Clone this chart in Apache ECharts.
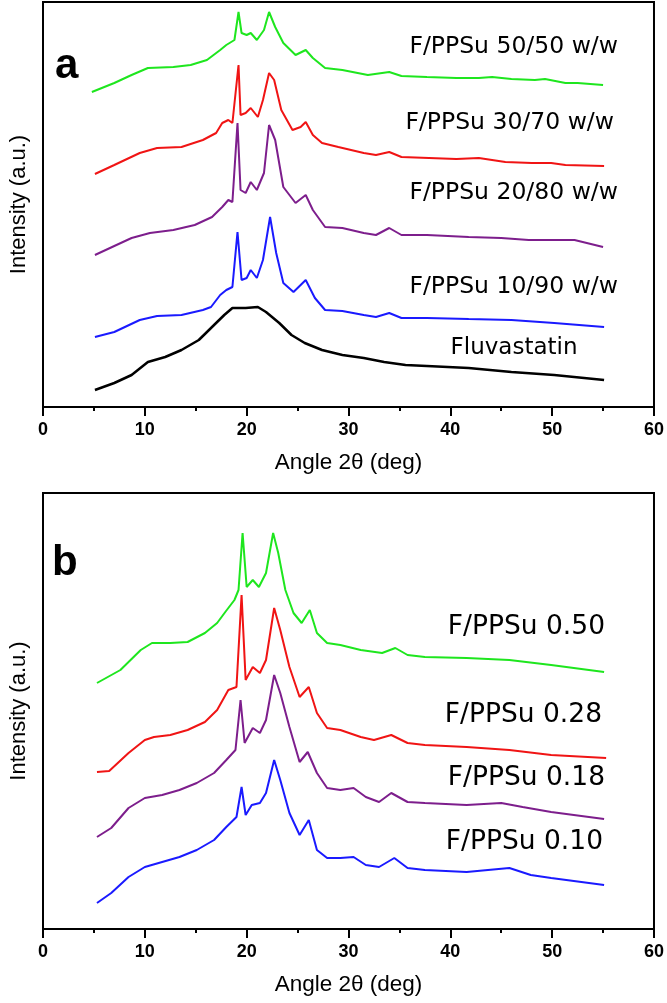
<!DOCTYPE html>
<html><head><meta charset="utf-8">
<script src="https://cdn.jsdelivr.net/npm/echarts@6/dist/echarts.min.js"></script>
<style>html,body{margin:0;padding:0;background:#fff}#c{width:667px;height:1003px}</style>
</head><body><div id="c"></div>
<script>
// ---------- Panel a (intensity in arbitrary units) ----------
const aGreenX  = [4.8,7.0,8.7,10.3,12.8,14.5,16.1,17.4,18.0,18.8,19.2,19.5,20.0,20.4,21.0,21.7,22.2,22.8,23.6,24.8,25.8,26.5,27.7,29.4,31.9,34.0,35.2,37.7,40.6,42.8,44.1,46.0,48.3,49.3,51.3,52.5,55.0];
const aGreenY  = [315,324,332,339,340,342,347,357,362,367,395,374,372,374,367,377,395,380,364,352,357,349,339,337,332,335,331,330,329,329,330,328,327,328,324,324,322];
const aRedX    = [5.1,7.0,9.5,11.2,13.6,15.7,17.0,17.6,18.2,18.6,19.2,19.4,19.9,20.4,21.1,21.6,22.2,22.7,23.4,24.5,25.3,25.8,26.5,27.4,29.0,31.5,32.7,34.0,35.2,37.9,40.6,42.8,45.4,48.0,49.9,51.3,55.1];
const aRedY    = [233,242,254,259,260,267,274,284,287,284,342,292,294,299,290,307,334,327,297,277,280,285,272,264,260,254,252,255,250,249,248,249,245,244,244,242,241];
const aPurpleX = [5.1,7.0,8.7,10.5,12.8,14.9,16.6,17.6,18.2,18.6,19.1,19.4,19.9,20.4,21.0,21.7,22.2,22.8,23.6,24.8,25.8,26.5,27.7,29.4,31.5,32.7,34.0,35.2,37.7,41.8,45.0,47.7,52.2,55.0];
const aPurpleY = [152,161,169,174,177,182,190,200,207,205,284,217,214,225,217,234,282,267,220,204,212,197,180,179,174,172,179,172,172,170,169,167,167,160];
const aBlueX   = [5.1,7.0,9.5,11.2,13.6,15.7,16.5,17.4,18.0,18.6,19.1,19.5,20.0,20.4,21.0,21.6,22.3,22.9,23.6,24.6,25.8,26.7,27.7,29.4,31.5,32.7,34.0,35.2,37.7,41.8,46.0,50.2,55.1];
const aBlueY   = [70,75,87,91,92,97,100,112,117,120,175,127,129,137,129,147,190,154,124,115,127,109,97,96,92,90,94,89,89,88,87,84,80];
const aBlackX  = [5.1,7.0,8.7,10.3,12.0,13.6,15.3,16.5,17.8,18.6,19.9,21.1,21.9,23.2,24.4,25.7,27.4,29.4,31.5,33.5,35.6,37.7,41.8,46.0,50.2,55.1];
const aBlackY  = [17,24,32,45,50,57,67,79,92,99,99,100,95,84,72,64,57,52,49,45,42,41,39,35,32,27];
const aLabels  = ["F/PPSu 50/50 w/w","F/PPSu 30/70 w/w","F/PPSu 20/80 w/w","F/PPSu 10/90 w/w","Fluvastatin"];

// ---------- Panel b ----------
const bGreenX  = [5.3,7.6,9.6,10.7,12.5,14.2,15.9,17.1,17.9,18.8,19.2,19.6,20.0,20.6,21.2,21.9,22.6,23.1,23.8,24.6,25.4,26.2,26.9,27.9,29.2,31.2,33.3,34.6,35.8,37.5,41.6,45.8,49.9,55.1];
const bGreenY  = [246,259,279,286,286,287,296,306,317,329,339,396,342,349,342,356,396,376,339,316,306,319,296,286,284,279,276,281,274,272,271,269,264,257];
const bRedX    = [5.3,6.5,8.4,10.0,10.9,12.5,14.2,15.9,17.1,18.2,19.0,19.5,19.9,20.6,21.3,21.9,22.7,23.3,24.2,25.2,26.1,26.9,27.9,29.2,31.2,32.5,34.2,35.8,37.5,41.6,45.8,49.9,55.3];
const bRedY    = [157,158,176,189,192,194,199,207,219,239,242,334,249,262,256,269,321,299,262,232,242,216,201,199,192,189,194,186,184,182,179,174,171];
const bPurpleX = [5.3,6.7,8.4,10.0,11.7,13.4,15.1,16.8,18.0,18.9,19.4,19.8,20.6,21.3,21.9,22.7,23.3,24.2,25.2,26.0,26.9,27.9,29.2,30.5,31.7,33.0,34.2,35.8,37.5,41.6,45.0,47.1,49.9,55.1];
const bPurpleY = [92,101,121,131,134,139,146,156,169,179,229,186,201,196,209,254,236,202,167,177,156,141,139,141,132,127,136,127,126,124,126,122,117,110];
const bBlueX   = [5.3,6.7,8.4,10.0,11.7,13.4,15.1,16.8,18.0,19.0,19.5,19.9,20.5,21.3,21.9,22.7,23.3,24.2,25.2,26.1,26.9,27.9,29.2,30.5,31.7,33.0,34.5,35.8,37.5,41.6,45.8,47.9,49.9,55.1];
const bBlueY   = [26,36,52,62,67,72,79,89,102,112,142,114,124,126,136,169,149,116,94,109,79,71,71,72,64,62,71,61,59,57,61,54,51,44];
const bLabels  = ["F/PPSu 0.50","F/PPSu 0.28","F/PPSu 0.18","F/PPSu 0.10"];

const panelMarks = ["a","b"];
const xAxisTitle = "Angle 2\u03b8 (deg)";
const yAxisTitle = "Intensity (a.u.)";

const pairs = (xs, ys) => xs.map((x, i) => [x, ys[i]]);
const lineSeries = (grid, xs, ys, color, w) => ({
  type: 'line', xAxisIndex: grid, yAxisIndex: grid, data: pairs(xs, ys),
  showSymbol: false, symbol: 'none', silent: true, animation: false,
  lineStyle: { color: color, width: w || 2 }
});

const tickFont = "'Liberation Sans', Arial, sans-serif";
const xAx = (grid) => ({
  type: 'value', gridIndex: grid, min: 0, max: 60, interval: 10,
  axisLine: { show: true, onZero: false, lineStyle: { color: '#000', width: 2 } },
  axisTick: { show: true, length: 9, lineStyle: { color: '#000', width: 2 } },
  minorTick: { show: true, splitNumber: 2, length: 4, lineStyle: { color: '#000', width: 2 } },
  splitLine: { show: false },
  axisLabel: { color: '#000', fontWeight: 'bold', fontSize: 18, margin: 14, fontFamily: tickFont },
  name: xAxisTitle, nameLocation: 'middle', nameGap: 44,
  nameTextStyle: { color: '#000', fontSize: 22.5, fontFamily: tickFont }
});
const yAx = (grid, max) => ({
  type: 'value', gridIndex: grid, min: 0, max: max,
  axisLine: { show: true, lineStyle: { color: '#000', width: 2 } },
  axisTick: { show: false }, axisLabel: { show: false }, splitLine: { show: false },
  name: yAxisTitle, nameLocation: 'middle', nameGap: 13,
  nameTextStyle: { color: '#000', fontSize: 22, fontFamily: tickFont }
});

const lblFont = (s) => s + "px 'DejaVu Sans', sans-serif";
const txt = (text, x, y, size, align) => ({
  type: 'text', x: x, y: y, silent: true,
  style: { text: text, fill: '#000', font: lblFont(size), align: align, verticalAlign: 'middle' }
});

const option = {
  animation: false,
  backgroundColor: '#fff',
  grid: [
    { left: 39, top: 2, width: 618, height: 405, show: true, borderColor: '#000', borderWidth: 2 },
    { left: 42, top: 493, width: 617, height: 436, show: true, borderColor: '#000', borderWidth: 2 }
  ],
  xAxis: [xAx(0), xAx(1)],
  yAxis: [yAx(0, 405), yAx(1, 436)],
  series: [
    lineSeries(0, aGreenX, aGreenY, '#1ee61e'),
    lineSeries(0, aRedX, aRedY, '#f01414'),
    lineSeries(0, aPurpleX, aPurpleY, '#7d1e8c'),
    lineSeries(0, aBlueX, aBlueY, '#1a1aff'),
    lineSeries(0, aBlackX, aBlackY, '#000', 2.5),
    lineSeries(1, bGreenX, bGreenY, '#1ee61e'),
    lineSeries(1, bRedX, bRedY, '#f01414'),
    lineSeries(1, bPurpleX, bPurpleY, '#7d1e8c'),
    lineSeries(1, bBlueX, bBlueY, '#1a1aff')
  ],
  graphic: [
    { type: 'text', x: 55, y: 45, silent: true, style: { text: panelMarks[0], fill: '#000', font: "bold 42px 'Liberation Sans', Arial, sans-serif", align: 'left', verticalAlign: 'alphabetic' } },
    { type: 'text', x: 52, y: 542, silent: true, style: { text: panelMarks[1], fill: '#000', font: "bold 42px 'Liberation Sans', Arial, sans-serif", align: 'left', verticalAlign: 'alphabetic' } },
    txt(aLabels[0], 618, 47, 23.5, 'right'),
    txt(aLabels[1], 614, 123, 23.5, 'right'),
    txt(aLabels[2], 618, 193, 23.5, 'right'),
    txt(aLabels[3], 618, 287, 23.5, 'right'),
    txt(aLabels[4], 514, 348, 23, 'center'),
    txt(bLabels[0], 605, 627, 26.5, 'right'),
    txt(bLabels[1], 602, 715, 26.5, 'right'),
    txt(bLabels[2], 605, 778, 26.5, 'right'),
    txt(bLabels[3], 603, 842, 26.5, 'right')
  ]
};
const chart = echarts.init(document.getElementById('c'), null, { renderer: 'canvas' });
chart.setOption(option);
</script>
</body></html>
